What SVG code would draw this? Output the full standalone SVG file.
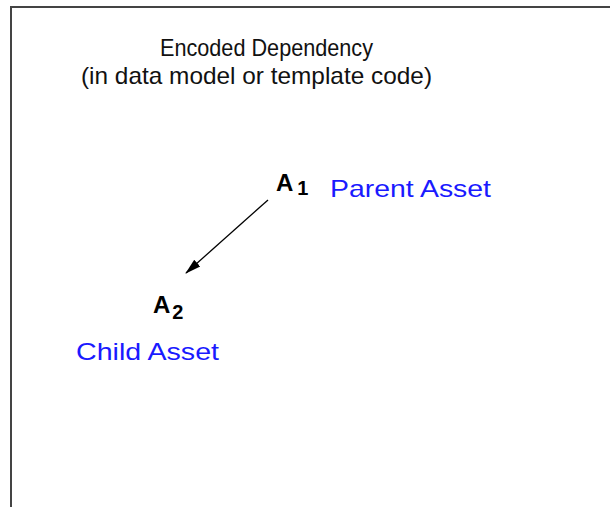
<svg xmlns="http://www.w3.org/2000/svg" width="610" height="507" viewBox="0 0 610 507">
<style>
.t{font-family:"Liberation Sans",Arial,sans-serif;font-size:24px;fill:#111}
.b{font-family:"Liberation Sans",Arial,sans-serif;font-weight:bold;fill:#000}
.blue{font-family:"Liberation Sans",Arial,sans-serif;font-size:24px;fill:#1a1aff}
</style>
<defs>
<marker id="ah" viewBox="0 0 16 12" refX="15" refY="6" markerWidth="16" markerHeight="12" orient="auto" markerUnits="userSpaceOnUse">
<path d="M0,1.5 L16,6 L0,10.5 Z" fill="#000"/>
</marker>
</defs>
<rect x="0" y="0" width="610" height="507" fill="#fff"/>
<path d="M11,520 V7 H620" fill="none" stroke="#444" stroke-width="2"/>
<g id="title">
<text class="t" x="160" y="56" textLength="213" lengthAdjust="spacingAndGlyphs">Encoded Dependency</text>
<text class="t" x="81" y="84" textLength="351" lengthAdjust="spacingAndGlyphs">(in data model or template code)</text>
</g>
<g id="connectors">
<line x1="268" y1="200" x2="186" y2="273" stroke="#000" stroke-width="1.3" marker-end="url(#ah)"/>
</g>
<g id="parent">
<text class="b" x="276" y="191" font-size="24">A<tspan font-size="20" dx="4" dy="4">1</tspan></text>
<text class="blue" x="330" y="197" textLength="161" lengthAdjust="spacingAndGlyphs">Parent Asset</text>
</g>
<g id="child">
<text class="b" x="153" y="313" font-size="24">A<tspan font-size="20" dx="2" dy="6">2</tspan></text>
<text class="blue" x="76" y="360" textLength="143" lengthAdjust="spacingAndGlyphs">Child Asset</text>
</g>
</svg>
